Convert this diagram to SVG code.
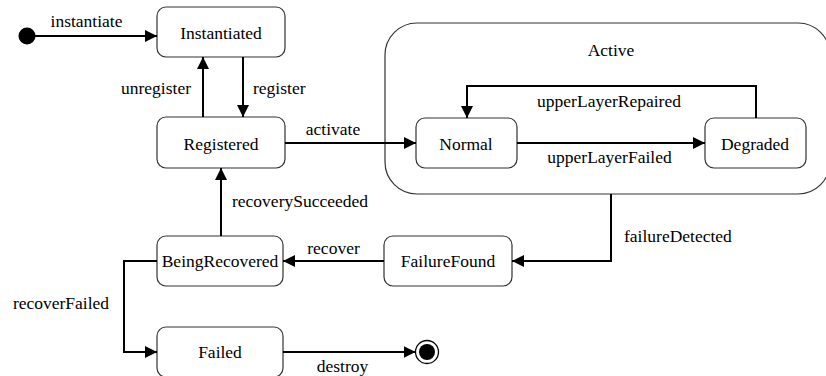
<svg xmlns="http://www.w3.org/2000/svg" width="826" height="376" viewBox="0 0 826 376">
<defs>
<style>
.st{fill:#fff;stroke:#333;stroke-width:1.2}
text{font-family:'Liberation Serif','Times New Roman',Times,serif;font-size:17.5px;fill:#000}
.m{text-anchor:middle}
.e{text-anchor:end}
.c{fill:none;stroke:#000;stroke-width:2}
</style>
<marker id="ah" viewBox="0 0 12 12" refX="12" refY="6" markerWidth="12" markerHeight="12" markerUnits="userSpaceOnUse" orient="auto">
<path d="M0,0 L12,6 L0,12 Z" fill="#000"/>
</marker>
</defs>
<g id="Active">
<rect class="st" x="385" y="23" width="445" height="171" rx="32"/>
<text class="m" x="611" y="56">Active</text>
</g>
<g id="initial"><circle cx="27" cy="36" r="8.5" fill="#000"/></g>
<g id="Instantiated"><rect class="st" x="157" y="7" width="128" height="50" rx="9"/><text class="m" x="221" y="39">Instantiated</text></g>
<g id="Registered"><rect class="st" x="157" y="117" width="128" height="51" rx="9"/><text class="m" x="221" y="150">Registered</text></g>
<g id="Normal"><rect class="st" x="416" y="118" width="101" height="50" rx="9"/><text class="m" x="466" y="150">Normal</text></g>
<g id="Degraded"><rect class="st" x="705" y="118" width="101" height="50" rx="9"/><text class="m" x="755" y="150">Degraded</text></g>
<g id="FailureFound"><rect class="st" x="384" y="236" width="128" height="50" rx="9"/><text class="m" x="448" y="267">FailureFound</text></g>
<g id="BeingRecovered"><rect class="st" x="157" y="236" width="126" height="50" rx="9"/><text class="m" x="220" y="267">BeingRecovered</text></g>
<g id="Failed"><rect class="st" x="157" y="327" width="126" height="50" rx="9"/><text class="m" x="220" y="358">Failed</text></g>
<g id="final"><circle cx="427" cy="352" r="11.5" fill="#fff" stroke="#000" stroke-width="1.3"/><circle cx="427" cy="352" r="8" fill="#000"/></g>
<g id="connectors">
<path class="c" d="M35,36 H157" marker-end="url(#ah)"/>
<text class="m" x="86.5" y="27">instantiate</text>
<path class="c" d="M203,117 V57" marker-end="url(#ah)"/>
<text class="e" x="191" y="94">unregister</text>
<path class="c" d="M243,57 V117" marker-end="url(#ah)"/>
<text x="253" y="94">register</text>
<path class="c" d="M285,143 H416" marker-end="url(#ah)"/>
<text class="m" x="333" y="135">activate</text>
<path class="c" d="M517,143 H705" marker-end="url(#ah)"/>
<text class="m" x="609.5" y="163">upperLayerFailed</text>
<path class="c" d="M756,118 V86 H467 V118" marker-end="url(#ah)"/>
<text class="m" x="609" y="107">upperLayerRepaired</text>
<path class="c" d="M611,194 V261 H512" marker-end="url(#ah)"/>
<text x="624" y="242">failureDetected</text>
<path class="c" d="M384,261 H283" marker-end="url(#ah)"/>
<text class="m" x="333.5" y="254">recover</text>
<path class="c" d="M221,236 V168" marker-end="url(#ah)"/>
<text x="232" y="207">recoverySucceeded</text>
<path class="c" d="M157,261 H124 V352 H157" marker-end="url(#ah)"/>
<text class="m" x="61" y="309">recoverFailed</text>
<path class="c" d="M283,352 H415.5" marker-end="url(#ah)"/>
<text class="m" x="342.5" y="372">destroy</text>
</g>
</svg>
